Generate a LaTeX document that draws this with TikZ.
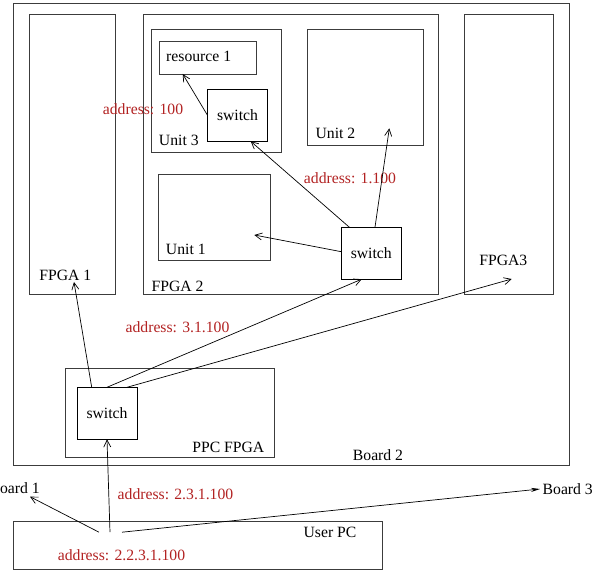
\documentclass[tikz,border=0pt]{standalone}
\usepackage{fontspec}
\setmainfont{Liberation Serif}
\usepackage{tikz}
\usetikzlibrary{arrows.meta, positioning, calc}
\definecolor{addrred}{RGB}{178,34,34}
\definecolor{boxline}{RGB}{60,60,60}
\tikzset{
  box/.style={rectangle,draw=boxline,line width=0.7pt,inner sep=0pt,outer sep=0pt},
  switchbox/.style={box,draw=black,minimum width=60pt,minimum height=52pt,font=\fontsize{15.7}{18}\selectfont},
  lbl/.style={inner sep=0pt,font=\fontsize{15.7}{18}\selectfont},
  addr/.style={lbl,text=addrred},
  arr/.style={-{Straight Barb[length=7pt,width=7pt]},line width=0.7pt},
  filledarr/.style={-{Stealth[length=9pt,width=4pt]},line width=0.7pt}
}

\begin{document}
\begin{tikzpicture}[x=1pt,y=-1pt]
  \useasboundingbox (0,0) rectangle (606,572);

  %% Board 2 and its FPGAs
  \node[box,minimum width=556pt,minimum height=462pt] (board2) at (291,234) {};
  \node[box,minimum width=86pt,minimum height=280pt] (fpga1) at (72,154.3) {};
  \node[box,minimum width=295pt,minimum height=280pt] (fpga2) at (291.3,154.3) {};
  \node[box,minimum width=89pt,minimum height=280pt] (fpga3) at (509.3,154.3) {};

  %% Units inside FPGA 2
  \node[box,minimum width=130pt,minimum height=123pt] (unit3) at (216.8,91) {};
  \node[box,minimum width=97pt,minimum height=33pt] (res1) at (207.5,57.5) {};
  \node[switchbox] (sw3) at (237.5,115.3) {switch};
  \node[box,minimum width=112pt,minimum height=86pt] (unit1) at (214.8,217.7) {};
  \node[box,minimum width=116pt,minimum height=116pt] (unit2) at (365.8,87.3) {};
  \node[switchbox] (sw2) at (371.3,253.2) {switch};

  %% PPC FPGA
  \node[box,minimum width=209pt,minimum height=89pt] (ppc) at (170.3,413) {};
  \node[switchbox] (swp) at (107,413.3) {switch};

  %% User PC
  \node[box,minimum width=369pt,minimum height=48pt] (userpc) at (198,545.2) {};

  %% Box labels
  \node[lbl] (fpga1lbl) at (65.3,275) {FPGA 1};
  \node[lbl] (fpga2lbl) at (177.5,286) {FPGA 2};
  \node[lbl] (fpga3lbl) at (503.3,260) {FPGA3};
  \node[lbl] (unit3lbl) at (178.8,140) {Unit 3};
  \node[lbl] (res1lbl) at (198.7,56) {resource 1};
  \node[lbl] (unit1lbl) at (185.8,249) {Unit 1};
  \node[lbl] (unit2lbl) at (335.5,133.5) {Unit 2};
  \node[lbl] (ppclbl) at (228.3,447.5) {PPC FPGA};
  \node[lbl] (board2lbl) at (378,455) {Board 2};
  \node[lbl] (userpclbl) at (330,532) {User PC};
  \node[lbl,anchor=east] (board1) at (40,488) {Board 1};
  \node[lbl,anchor=west,inner sep=2.5pt] (board3) at (540,489) {Board 3};

  %% Addresses
  \node[addr] (addr100) at (143,109) {address: 100};
  \node[addr] (addr1100) at (350,178) {address: 1.100};
  \node[addr] (addr31100) at (177.5,327) {address: 3.1.100};
  \node[addr] (addr231100) at (175.5,494.5) {address: 2.3.1.100};
  \node[addr] (addr2231100) at (121.5,555) {address: 2.2.3.1.100};

  %% Free ends
  \coordinate (pc) at ([xshift=-88pt,yshift=-11pt]userpc.north);
  \coordinate (fpga1in) at (74,282);
  \coordinate (fpga3in) at (511.7,279);
  \coordinate (unit1in) at (254.3,235);
  \coordinate (unit2in) at (389.3,128.3);
  \coordinate (board1in) at (30,496.7);

  %% Connectors
  \draw[arr] ([xshift=-15.3pt]swp.north) -- (fpga1in);
  \draw[arr] (swp.north) -- ([xshift=-9.6pt]sw2.south);
  \draw[arr] ([xshift=20pt]swp.north) -- (fpga3in);
  \draw[arr] ([xshift=-22pt]sw2.north) -- ([xshift=13.2pt]sw3.south);
  \draw[arr] ([yshift=1.5pt]sw2.west) -- (unit1in);
  \draw[arr] ([xshift=3.7pt]sw2.north) -- (unit2in);
  \draw[arr] (sw3.west) -- ([xshift=-24.8pt]res1.south);
  \draw[arr] (pc) -- ([xshift=0pt]swp.south);
  \draw[arr] ([xshift=-11pt]pc) -- (board1in);
  \draw[filledarr] ([xshift=12pt]pc) -- (board3.west);
\end{tikzpicture}
\end{document}
